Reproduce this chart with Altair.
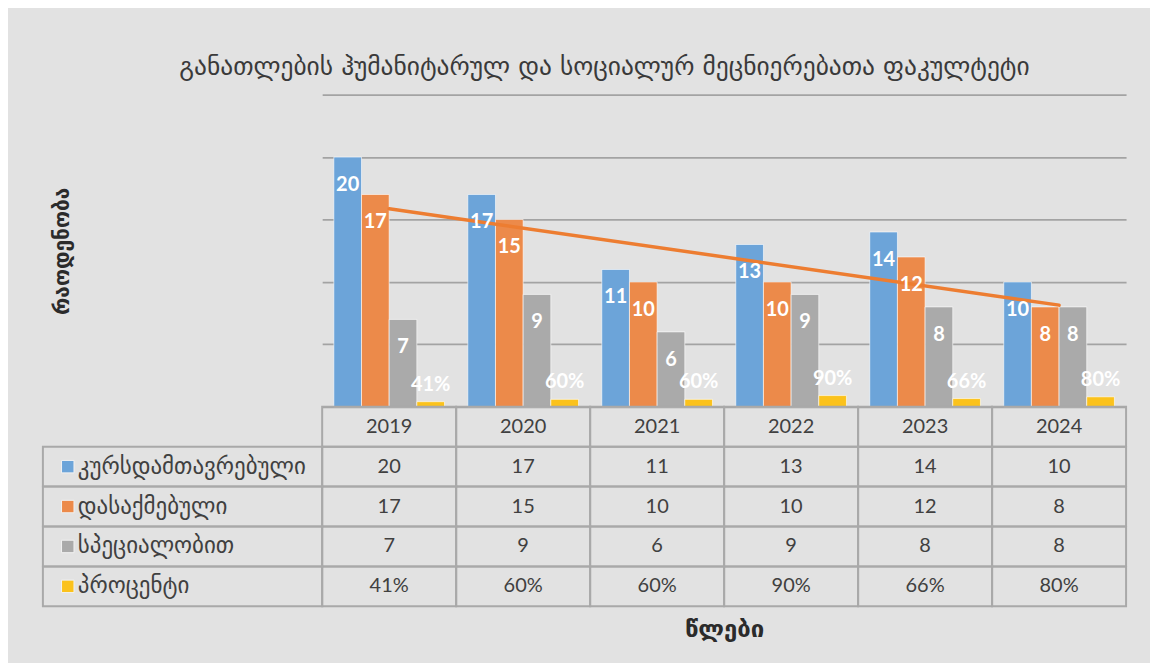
import altair as alt
import pandas as pd

# ---------------- data ----------------
years = [2019, 2020, 2021, 2022, 2023, 2024]
series = ["კურსდამთავრებული", "დასაქმებული", "სპეციალობით", "პროცენტი"]
graduates = [20, 17, 11, 13, 14, 10]
employed = [17, 15, 10, 10, 12, 8]
specialty = [7, 9, 6, 9, 8, 8]
percent = [0.41, 0.60, 0.60, 0.90, 0.66, 0.80]
colors = ["#6ca4d9", "#ec8a4a", "#aaaaaa", "#fbc21c"]

title_text = "განათლების ჰუმანიტარულ და სოციალურ მეცნიერებათა ფაკულტეტი"
y_title = "რაოდენობა"
x_title = "წლები"
y_ticks = [0, 5, 10, 15, 20, 25]

year_labels = [str(y) for y in years]
rows = []
for s, vals in zip(series, [graduates, employed, specialty, percent]):
    for i, (yr, v) in enumerate(zip(years, vals)):
        label = f"{round(v * 100)}%" if s == series[3] else str(v)
        rows.append({"year": str(yr), "idx": i + 1, "series": s, "value": v, "label": label})
df = pd.DataFrame(rows)

hdr = " "
tdf = pd.DataFrame(
    [{"year": y, "row": hdr, "label": y} for y in year_labels]
    + [{"year": r["year"], "row": r["series"], "label": r["label"]} for r in rows]
)
ldf = pd.DataFrame({"col": ["lab"] * len(series), "row": series})

GEO = "DejaVu Sans"
NUM = "Lato, DejaVu Sans"
TXT = "#404040"
LINE = "#a9a9a9"

# ---------------- bar chart ----------------
xband = alt.X("year:N", scale=alt.Scale(domain=year_labels, paddingInner=0.174, paddingOuter=0.087), axis=None)
xoff = alt.XOffset("series:N", scale=alt.Scale(domain=series, paddingInner=0, paddingOuter=0))
yq = alt.Y(
    "value:Q",
    scale=alt.Scale(domain=[0, 25], nice=False),
    axis=alt.Axis(values=y_ticks, labels=False, ticks=False, domain=False, grid=True,
                  gridColor="#a3a3a3", gridWidth=1.8, title=y_title, titleFont=GEO,
                  titleFontSize=21, titleFontWeight="bold", titleColor="#2b2b2b", titlePadding=250),
)
color = alt.Color("series:N", scale=alt.Scale(domain=series, range=colors), legend=None)

bars = alt.Chart(df).mark_bar(stroke="white", strokeOpacity=0.6, strokeWidth=1).encode(
    x=xband, xOffset=xoff, y=yq, color=color
)
trend = (
    alt.Chart(df)
    .transform_filter(alt.datum.series == series[1])
    .transform_regression("idx", "value")
    .mark_line(color="#ed7d31", strokeWidth=3.5, strokeCap="round")
    .encode(
        x=alt.X("idx:Q", scale=alt.Scale(domain=[0.5, len(years) + 0.5], nice=False, zero=False), axis=None),
        y=alt.Y("value:Q"),
    )
)
count_labels = alt.Chart(df).transform_filter(alt.datum.series != series[3]).mark_text(
    color="white", font=NUM, fontSize=20, fontWeight="bold", baseline="middle", dy=28
).encode(x=xband, xOffset=xoff, y="value:Q", text="label:N")
pct_labels = alt.Chart(df).transform_filter(alt.datum.series == series[3]).mark_text(
    color="white", font=NUM, fontSize=20, fontWeight="bold", baseline="middle", dy=-17
).encode(x=xband, xOffset=xoff, y="value:Q", text="label:N")

bar_chart = alt.layer(bars, trend, count_labels, pct_labels).resolve_scale(x="independent").properties(
    width=806, height=313
)

# ---------------- data table ----------------
ty = alt.Y("row:N", scale=alt.Scale(domain=[hdr] + series, paddingInner=0, paddingOuter=0), axis=None)
tx = alt.X(
    "year:N",
    scale=alt.Scale(domain=year_labels, paddingInner=0, paddingOuter=0),
    axis=alt.Axis(title=x_title, labels=False, ticks=False, domain=False, grid=False, titleFont=GEO,
                  titleFontSize=24, titleFontWeight="bold", titleColor="#2b2b2b", titlePadding=11),
)


def lx(frac):
    # point position inside the row-label column (fraction of its width)
    return alt.X("col:N", scale=alt.Scale(type="point", domain=["lab"], range=[-280, 0], padding=0, align=frac),
                 axis=None)


cells = alt.Chart(tdf).mark_rect(fill="transparent", stroke=LINE, strokeWidth=2).encode(x=tx, y=ty)
cell_text = alt.Chart(tdf).mark_text(font=NUM, fontSize=20, color=TXT).encode(
    x=alt.X("year:N", scale=alt.Scale(domain=year_labels, paddingInner=0, paddingOuter=0), axis=None),
    y=ty, text="label:N")
lab_cells = alt.Chart(ldf).mark_rect(fill="transparent", stroke=LINE, strokeWidth=2).encode(
    x=alt.X("col:N", scale=alt.Scale(domain=["lab"], range=[-280, 0], paddingInner=0, paddingOuter=0), axis=None),
    y=ty)
lab_text = alt.Chart(ldf).mark_text(align="left", font=GEO, fontSize=23, color=TXT).encode(
    x=lx(0.125), y=ty, text="row:N")
swatch = alt.Chart(ldf).mark_square(size=156, opacity=1, stroke="#f2f2f2", strokeWidth=1).encode(
    x=lx(0.089), y=ty, color=alt.Color("row:N", scale=alt.Scale(domain=series, range=colors), legend=None))

table_chart = alt.layer(cells, cell_text, lab_cells, lab_text, swatch).resolve_scale(x="independent").properties(
    width=806, height=200
)

chart = (
    alt.vconcat(bar_chart, table_chart, spacing=0, bounds="flush")
    .properties(
        title=alt.TitleParams(title_text, font=GEO, fontSize=25.5, fontWeight="normal", color="#3a3a3a",
                              anchor="middle", dx=20, offset=14),
        background="#e2e2e2",
        padding={"left": 33, "top": 46, "right": 22, "bottom": 20},
    )
    .configure_view(stroke="transparent")
)

chart.save("out.html", embed_options={"renderer": "svg", "actions": False})
